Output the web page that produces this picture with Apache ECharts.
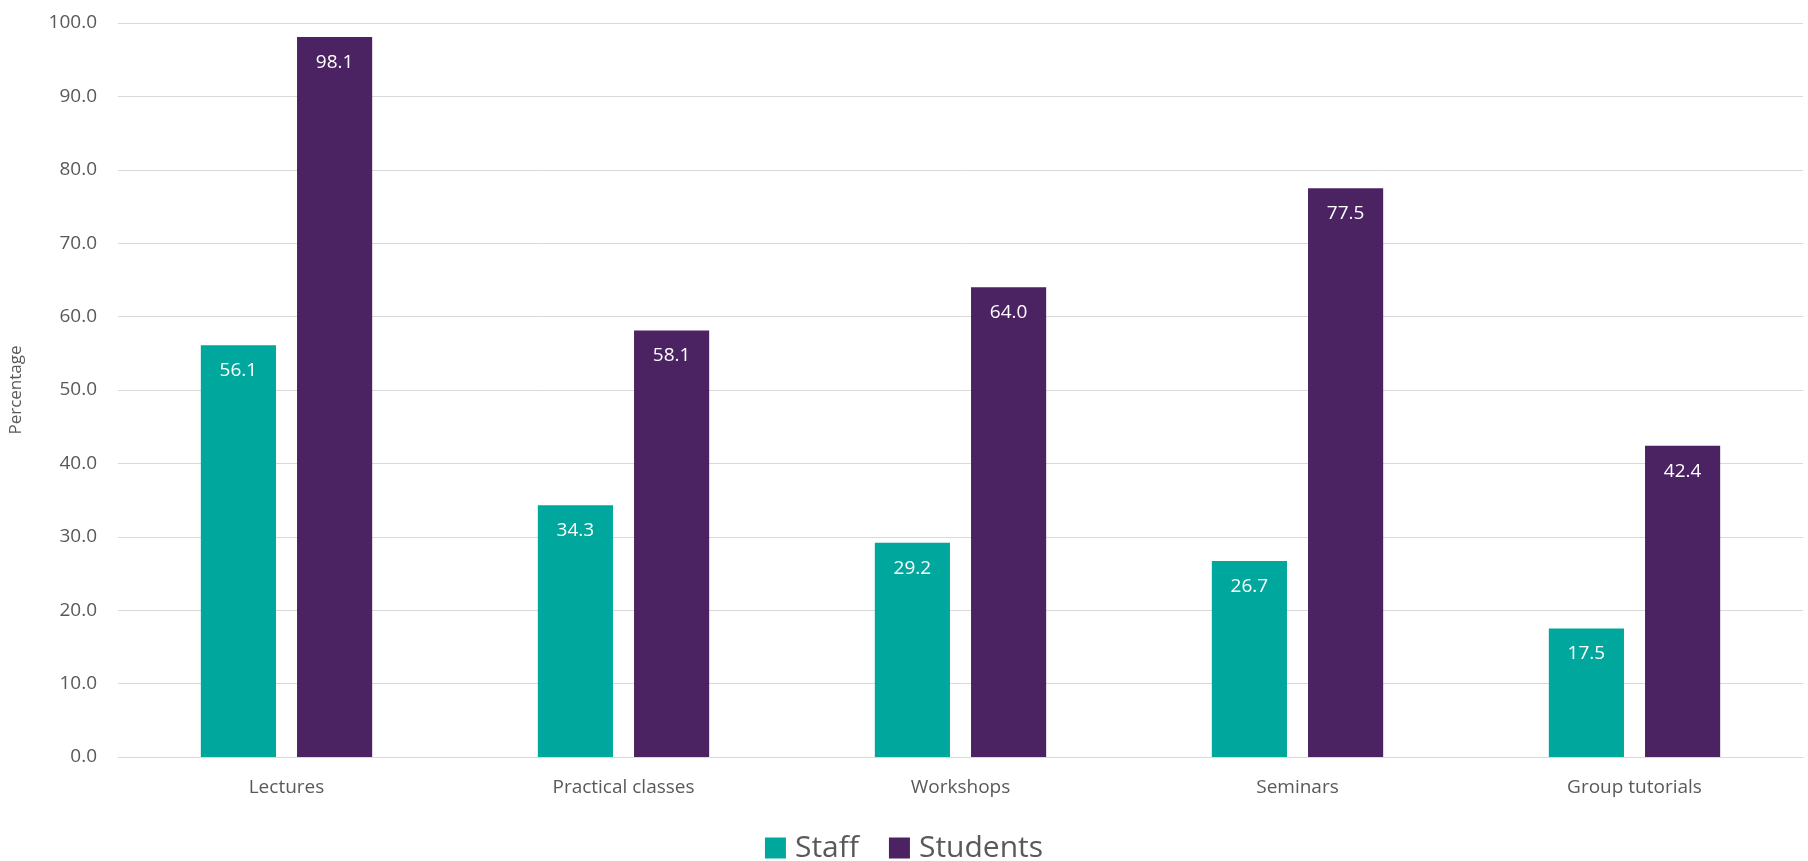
<!DOCTYPE html>
<html>
<head>
<meta charset="utf-8">
<script src="https://cdn.jsdelivr.net/npm/echarts@6/dist/echarts.min.js"></script>
<style>
html,body{margin:0;padding:0;background:#fff;}
#chart{width:1808px;height:861px;}
</style>
</head>
<body>
<div id="chart"></div>
<script>
const categories = ['Lectures', 'Practical classes', 'Workshops', 'Seminars', 'Group tutorials'];
const staffValues = [56.1, 34.3, 29.2, 26.7, 17.5];
const studentValues = [98.1, 58.1, 64.0, 77.5, 42.4];
const seriesNames = ['Staff', 'Students'];

const chart = echarts.init(document.getElementById('chart'));
const font = '"Open Sans", "Noto Sans", sans-serif';
const labelCfg = {
  show: true,
  position: 'insideTop',
  distance: 16,
  color: '#ffffff',
  fontSize: 19,
  fontFamily: font,
  formatter: p => Number(p.value).toFixed(1)
};
chart.setOption({
  animation: false,
  grid: { left: 118, right: 5, top: 23, bottom: 104, containLabel: false },
  legend: {
    data: seriesNames,
    top: 828,
    left: 'center',
    itemWidth: 21,
    itemHeight: 21,
    itemGap: 30,
    icon: 'rect',
    textStyle: { fontSize: 30, color: '#595959', fontFamily: font, padding: [0, 0, 0, 4] }
  },
  xAxis: {
    type: 'category',
    data: categories,
    axisLine: { show: true, lineStyle: { color: '#d9d9d9' } },
    axisTick: { show: false },
    axisLabel: { fontSize: 19, color: '#595959', fontFamily: font, margin: 21 }
  },
  yAxis: {
    type: 'value',
    min: 0,
    max: 100,
    interval: 10,
    name: 'Percentage',
    nameLocation: 'middle',
    nameRotate: 90,
    nameGap: 93,
    nameTextStyle: { fontSize: 17, color: '#595959', fontFamily: font },
    axisLine: { show: false },
    axisTick: { show: false },
    splitLine: { lineStyle: { color: '#d9d9d9', width: 1 } },
    axisLabel: { fontSize: 19, color: '#595959', fontFamily: font, margin: 21, formatter: v => v.toFixed(1) }
  },
  series: [
    {
      name: seriesNames[0],
      type: 'bar',
      data: staffValues,
      itemStyle: { color: '#00A79D' },
      barWidth: '22.3%',
      barGap: '28%',
      label: labelCfg
    },
    {
      name: seriesNames[1],
      type: 'bar',
      data: studentValues,
      itemStyle: { color: '#4B2362' },
      barWidth: '22.3%',
      label: labelCfg
    }
  ]
});
</script>
</body>
</html>
